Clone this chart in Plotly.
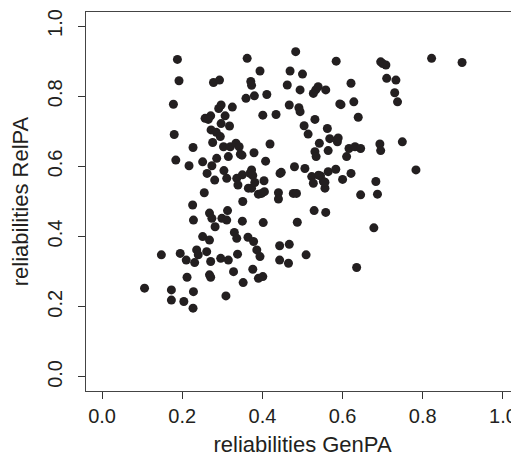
import plotly.graph_objects as go

# reliabilities (GenPA on x, RelPA on y)
genpa = [
    0.106, 0.148, 0.173, 0.173, 0.178, 0.180, 0.184, 0.188, 0.192, 0.195,
    0.204, 0.210, 0.212, 0.217, 0.226, 0.227, 0.227, 0.228, 0.228, 0.231,
    0.236, 0.240, 0.251, 0.255, 0.251, 0.257, 0.261, 0.262, 0.264, 0.268,
    0.268, 0.268, 0.271, 0.271, 0.271, 0.272, 0.274, 0.274, 0.276, 0.278,
    0.281, 0.282, 0.285, 0.286, 0.293, 0.291, 0.295, 0.296, 0.297, 0.297,
    0.299, 0.303, 0.304, 0.307, 0.309, 0.311, 0.311, 0.313, 0.315, 0.315,
    0.318, 0.320, 0.325, 0.328, 0.330, 0.334, 0.336, 0.336, 0.338, 0.339,
    0.342, 0.345, 0.349, 0.350, 0.351, 0.350, 0.352, 0.359, 0.362, 0.364,
    0.365, 0.369, 0.371, 0.373, 0.373, 0.373, 0.376, 0.378, 0.379, 0.380,
    0.381, 0.386, 0.390, 0.390, 0.394, 0.394, 0.398, 0.401, 0.401, 0.402,
    0.404, 0.405, 0.408, 0.411, 0.419, 0.434, 0.440, 0.440, 0.443, 0.443,
    0.444, 0.447, 0.462, 0.465, 0.467, 0.467, 0.469, 0.477, 0.480, 0.483,
    0.485, 0.487, 0.491, 0.494, 0.494, 0.500, 0.504, 0.506, 0.509, 0.514,
    0.523, 0.527, 0.527, 0.529, 0.531, 0.531, 0.534, 0.533, 0.539, 0.542,
    0.545, 0.552, 0.556, 0.558, 0.558, 0.562, 0.564, 0.564, 0.568, 0.583,
    0.584, 0.587, 0.589, 0.593, 0.600, 0.610, 0.616, 0.621, 0.621, 0.628,
    0.631, 0.635, 0.639, 0.645, 0.645, 0.678, 0.683, 0.687, 0.693, 0.695,
    0.695, 0.708, 0.710, 0.733, 0.730, 0.737, 0.749, 0.783, 0.822, 0.898,
    0.556, 0.596, 0.265, 0.700, 0.540, 0.376,
]
relpa = [
    0.253, 0.348, 0.248, 0.219, 0.777, 0.691, 0.618, 0.905, 0.844, 0.352,
    0.215, 0.333, 0.284, 0.602, 0.490, 0.654, 0.196, 0.243, 0.447, 0.326,
    0.362, 0.348, 0.400, 0.525, 0.613, 0.737, 0.357, 0.580, 0.737, 0.467,
    0.390, 0.291, 0.284, 0.744, 0.329, 0.704, 0.452, 0.602, 0.668, 0.839,
    0.561, 0.428, 0.697, 0.623, 0.846, 0.765, 0.685, 0.338, 0.722, 0.775,
    0.452, 0.656, 0.588, 0.744, 0.231, 0.566, 0.447, 0.474, 0.628, 0.333,
    0.715, 0.656, 0.769, 0.300, 0.412, 0.666, 0.566, 0.395, 0.350, 0.547,
    0.656, 0.635, 0.632, 0.576, 0.500, 0.444, 0.269, 0.794, 0.908, 0.398,
    0.538, 0.580, 0.842, 0.831, 0.590, 0.538, 0.307, 0.386, 0.639, 0.801,
    0.554, 0.362, 0.281, 0.521, 0.872, 0.343, 0.523, 0.746, 0.286, 0.440,
    0.559, 0.528, 0.615, 0.805, 0.664, 0.748, 0.525, 0.507, 0.374, 0.333,
    0.580, 0.583, 0.832, 0.324, 0.775, 0.378, 0.872, 0.523, 0.599, 0.927,
    0.523, 0.441, 0.767, 0.818, 0.756, 0.863, 0.716, 0.594, 0.348, 0.692,
    0.571, 0.552, 0.808, 0.474, 0.734, 0.642, 0.628, 0.818, 0.827, 0.666,
    0.573, 0.557, 0.538, 0.818, 0.469, 0.708, 0.645, 0.585, 0.679, 0.592,
    0.900, 0.670, 0.681, 0.778, 0.563, 0.628, 0.651, 0.580, 0.837, 0.784,
    0.656, 0.312, 0.740, 0.651, 0.519, 0.425, 0.557, 0.521, 0.664, 0.645,
    0.898, 0.889, 0.851, 0.846, 0.810, 0.784, 0.670, 0.590, 0.908, 0.896,
    0.555, 0.776, 0.734, 0.893, 0.575, 0.574,
]

tick_vals = [0.0, 0.2, 0.4, 0.6, 0.8, 1.0]
tick_text = ["0.0", "0.2", "0.4", "0.6", "0.8", "1.0"]

ink = "#231f20"

fig = go.Figure(
    go.Scatter(
        x=genpa,
        y=relpa,
        mode="markers",
        marker=dict(size=9, color=ink, line=dict(width=0)),
        hoverinfo="x+y",
    )
)

axis_common = dict(
    range=[-0.04, 1.04],
    tickvals=tick_vals,
    ticktext=tick_text,
    ticks="outside",
    ticklen=7,
    tickwidth=1,
    tickcolor="#333",
    showline=True,
    linecolor="#444",
    linewidth=1,
    mirror=True,
    showgrid=False,
    zeroline=False,
    automargin=False,
    tickfont=dict(size=20, color=ink),
)

fig.update_xaxes(
    **axis_common,
    title=dict(text="reliabilities GenPA", font=dict(size=22, color=ink), standoff=10),
)
fig.update_yaxes(
    **axis_common,
    tickangle=-90,
    ticklabelstandoff=8,
    title=dict(text="reliabilities RelPA", font=dict(size=22, color=ink), standoff=14),
)

# the page body adds an 8px offset, so the figure is sized to end at the window edge
fig.update_layout(
    width=511,
    height=456,
    margin=dict(l=78, r=0, t=4, b=73),
    plot_bgcolor="white",
    paper_bgcolor="white",
    font=dict(family="Liberation Sans, Arial, sans-serif", color=ink),
    showlegend=False,
)

fig.write_html("out.html")
